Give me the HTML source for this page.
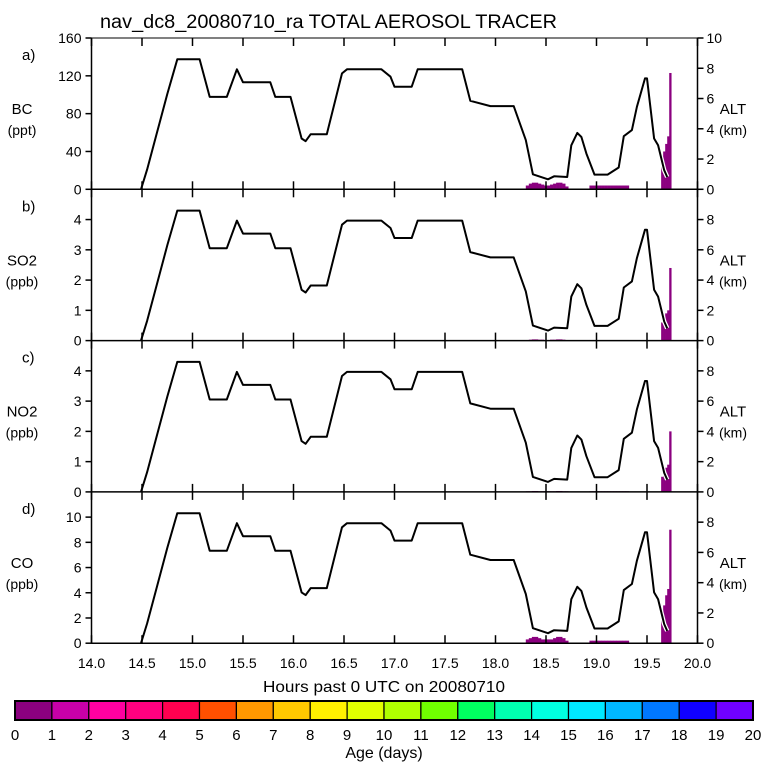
<!DOCTYPE html>
<html><head><meta charset="utf-8">
<style>
html,body{margin:0;padding:0;background:#fff;}
svg{display:block;font-family:"Liberation Sans",Arial,sans-serif;}
</style></head>
<body>
<svg id="chart" width="768" height="768" viewBox="0 0 768 768" xmlns="http://www.w3.org/2000/svg">
<rect width="768" height="768" fill="#fff"/>
<text x="100" y="28" font-size="19" textLength="457" lengthAdjust="spacingAndGlyphs">nav_dc8_20080710_ra TOTAL AEROSOL TRACER</text>
<text x="263" y="692" font-size="16" textLength="242" lengthAdjust="spacingAndGlyphs">Hours past 0 UTC on 20080710</text>
<text x="384" y="758" font-size="16" text-anchor="middle">Age (days)</text>
<g id="panels"></g>
<g id="cbar"></g>
</svg>
<script>
const xTicks=[14.0,14.5,15.0,15.5,16.0,16.5,17.0,17.5,18.0,18.5,19.0,19.5,20.0];
const altHours=[14.49,14.55,14.65,14.75,14.85,15.07,15.17,15.34,15.44,15.5,15.77,15.82,15.97,16.08,16.12,16.17,16.33,16.48,16.53,16.87,16.96,17.0,17.17,17.23,17.67,17.75,17.95,18.18,18.3,18.37,18.52,18.58,18.71,18.75,18.81,18.85,18.9,18.98,19.11,19.22,19.27,19.35,19.4,19.48,19.5,19.57,19.61,19.67,19.7];
const altKm=[0,1.3,3.8,6.3,8.59,8.59,6.11,6.11,7.93,7.07,7.07,6.11,6.11,3.36,3.18,3.64,3.64,7.66,7.93,7.93,7.44,6.78,6.78,7.93,7.93,5.85,5.5,5.5,3.25,0.99,0.66,0.86,0.81,2.91,3.73,3.46,2.36,0.97,0.97,1.44,3.51,3.91,5.45,7.33,7.33,3.36,2.91,1.26,0.81];
const barHours=[18.30,18.33,18.36,18.39,18.42,18.45,18.48,18.51,18.54,18.57,18.60,18.63,18.66,18.69,18.93,18.96,18.99,19.02,19.05,19.08,19.11,19.14,19.17,19.20,19.23,19.26,19.29,19.64,19.66,19.68,19.70,19.72];
const bcVals=[4,6,7,7,6,5,4,4,5,6,7,7,6,3,4,4,4,4,4,4,4,4,4,4,4,4,4,35,40,48,56,123];
const so2Vals=[0.02,0.03,0.04,0.04,0.03,0.03,0.02,0.02,0.03,0.03,0.04,0.04,0.03,0.02,0.02,0.02,0.02,0.02,0.02,0.02,0.02,0.02,0.02,0.02,0.02,0.02,0.02,0.6,0.7,0.9,1.0,2.4];
const no2Vals=[0.02,0.02,0.03,0.03,0.02,0.02,0.02,0.02,0.02,0.02,0.03,0.03,0.02,0.02,0.02,0.02,0.02,0.02,0.02,0.02,0.02,0.02,0.02,0.02,0.02,0.02,0.02,0.5,0.6,0.8,0.9,2.0];
const coVals=[0.3,0.4,0.5,0.5,0.4,0.3,0.3,0.3,0.3,0.4,0.5,0.5,0.4,0.2,0.2,0.2,0.2,0.2,0.2,0.2,0.2,0.2,0.2,0.2,0.2,0.2,0.2,2.5,3.0,3.8,4.3,9.0];
const panelLetters=["a)","b)","c)","d)"];
const panelSpecies=["BC","SO2","NO2","CO"];
const panelUnits=["(ppt)","(ppb)","(ppb)","(ppb)"];
const panelMax=[160,5,5,12];
const leftTicksA=[0,40,80,120,160];
const leftTicksB=[0,1,2,3,4];
const leftTicksD=[0,2,4,6,8,10];
const altTicksTop=[0,2,4,6,8,10];
const altTicks=[0,2,4,6,8];
const ageColors=["#8b007f","#c800a8","#ff00a0","#ff0080","#ff0050","#ff5000","#ff9800","#ffc800","#fff000","#e0ff00","#b0ff00","#70ff00","#00ff60","#00ffb0","#00ffe0","#00e8ff","#00b8ff","#0078ff","#1000ff","#7000ff"];
const ageLabels=["0","1","2","3","4","5","6","7","8","9","10","11","12","13","14","15","16","17","18","19","20"];

const NS="http://www.w3.org/2000/svg";
const X0=91.5,X1=697.5,PT=38,PH=151.3;
const xs=h=>X0+(h-14)/6*(X1-X0);
function mk(tag,attrs,parent,text){const e=document.createElementNS(NS,tag);for(const k in attrs)e.setAttribute(k,attrs[k]);if(text!==undefined)e.textContent=text;parent.appendChild(e);return e;}
const panels=document.getElementById('panels');
const seriesList=[bcVals,so2Vals,no2Vals,coVals];
const leftTickList=[leftTicksA,leftTicksB,leftTicksB,leftTicksD];
for(let p=0;p<4;p++){
  const top=PT+p*PH,bot=top+PH;
  const g=mk('g',{},panels);
  
  
  const ys=v=>bot-v/panelMax[p]*PH;
  const ya=a=>bot-a/10*PH;
  const vals=seriesList[p];
  for(let i=0;i<barHours.length;i++){
    const w=barHours[i]>=19.6?0.02:0.03;
    const x=xs(barHours[i]),x2=xs(barHours[i]+w);
    const r=mk('rect',{x:x,y:ys(vals[i]),width:x2-x+0.3,height:bot-ys(vals[i]),fill:ageColors[0]},g);
    
    
  }
  const d=altHours.map((h,i)=>(i?'L':'M')+xs(h).toFixed(1)+' '+ya(altKm[i]).toFixed(1)).join(' ');
  mk('path',{d:d,fill:'none',stroke:'#fff','stroke-width':4.5,'stroke-linejoin':'round'},g);
  const ln=mk('path',{d:d,fill:'none',stroke:'#000','stroke-width':2,'stroke-linejoin':'round'},g);
  
  
  mk('line',{x1:X0,y1:top,x2:X0,y2:bot,stroke:'#000','stroke-width':1.5},g);
  mk('line',{x1:X1,y1:top,x2:X1,y2:bot,stroke:'#000','stroke-width':1.5},g);
  mk('line',{x1:X0,y1:bot,x2:X1,y2:bot,stroke:'#000','stroke-width':1.5},g);
  if(p===0) mk('line',{x1:X0,y1:top,x2:X1,y2:top,stroke:'#000','stroke-width':1},g);
  xTicks.forEach(t=>{const x=xs(t);
    mk('line',{x1:x,y1:bot,x2:x,y2:bot-8,stroke:'#000','stroke-width':1.5},g);
    mk('line',{x1:x,y1:top,x2:x,y2:top+8,stroke:'#000','stroke-width':1.5},g);});
  leftTickList[p].forEach(v=>{const y=ys(v);
    mk('line',{x1:X0-6,y1:y,x2:X0,y2:y,stroke:'#000','stroke-width':1.5},g);
    const t=mk('text',{x:X0-10,y:y+5,'font-size':14,'text-anchor':'end'},g,String(v));
    
    });
  (p===0?altTicksTop:altTicks).forEach(v=>{const y=ya(v);
    mk('line',{x1:X1,y1:y,x2:X1+6,y2:y,stroke:'#000','stroke-width':1.5},g);
    const t=mk('text',{x:X1+9,y:y+5,'font-size':14},g,String(v));
    
    });
  const a=mk('text',{x:22,y:top+22,'font-size':15},g,panelLetters[p]);
  
  const s=mk('text',{x:22,y:top+76,'font-size':15,'text-anchor':'middle'},g,panelSpecies[p]);
  
  const u=mk('text',{x:22,y:top+97,'font-size':14,'text-anchor':'middle'},g,panelUnits[p]);
  
  const al=mk('text',{x:733,y:top+76,'font-size':15,'text-anchor':'middle'},g,'ALT');
  
  const ak=mk('text',{x:733,y:top+97,'font-size':14,'text-anchor':'middle'},g,'(km)');
  
}
xTicks.forEach(t=>{const e=mk('text',{x:xs(t),y:668,'font-size':14,'text-anchor':'middle'},panels,t.toFixed(1));
  });
const cb=document.getElementById('cbar');

const CX0=15,CX1=753,CY=701,CH=19,cw=(CX1-CX0)/ageColors.length;
ageColors.forEach((c,i)=>{const r=mk('rect',{x:CX0+i*cw,y:CY,width:cw,height:CH,fill:c,stroke:'#000','stroke-width':1.2},cb);
  });
mk('rect',{x:CX0,y:CY,width:CX1-CX0,height:CH,fill:'none',stroke:'#000','stroke-width':2},cb);
ageLabels.forEach((l,i)=>{const e=mk('text',{x:CX0+i*cw,y:740,'font-size':15,'text-anchor':'middle'},cb,l);
  });
</script>
</body></html>
